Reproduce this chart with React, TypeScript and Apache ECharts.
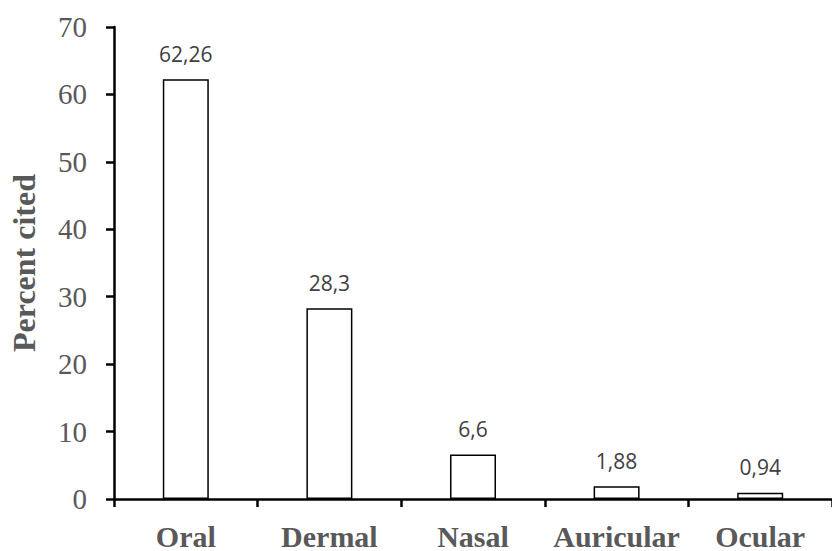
import React, { useEffect, useRef } from "react";
import * as echarts from "echarts";

const categories = ["Oral", "Dermal", "Nasal", "Auricular", "Ocular"];
const percentCited = [62.26, 28.3, 6.6, 1.88, 0.94];
const valueLabels = ["62,26", "28,3", "6,6", "1,88", "0,94"];
const yTicks = { min: 0, max: 70, interval: 10 };

export default function App() {
  const ref = useRef<HTMLDivElement>(null);
  useEffect(() => {
    if (!ref.current) return;
    const chart = echarts.init(ref.current, undefined, { renderer: "svg" });
    const serif = "'Liberation Serif', 'Times New Roman', serif";
    chart.setOption({
      animation: false,
      backgroundColor: "#ffffff",
      grid: { left: 111, right: -9, top: 27, bottom: 52, containLabel: false },
      xAxis: {
        type: "category",
        data: categories,
        axisLine: { lineStyle: { color: "#000", width: 2.5 } },
        axisTick: { show: true, interval: 0, length: 8, lineStyle: { color: "#000", width: 2.5 } },
        axisLabel: {
          interval: 0,
          hideOverlap: false,
          color: "#595959",
          fontFamily: serif,
          fontWeight: "bold",
          fontSize: 30,
          margin: 22,
        },
      },
      yAxis: {
        type: "value",
        min: yTicks.min,
        max: yTicks.max,
        interval: yTicks.interval,
        name: "Percent cited",
        nameLocation: "middle",
        nameGap: 74,
        nameTextStyle: {
          color: "#595959",
          fontFamily: serif,
          fontWeight: "bold",
          fontSize: 32,
        },
        splitLine: { show: false },
        axisLine: { show: true, lineStyle: { color: "#000", width: 2.5 } },
        axisTick: { show: true, length: 8, lineStyle: { color: "#000", width: 2.5 } },
        axisLabel: {
          color: "#595959",
          fontFamily: serif,
          fontSize: 29,
          margin: 27,
        },
      },
      series: [
        {
          type: "bar",
          data: percentCited,
          barWidth: 46,
          itemStyle: { color: "#ffffff", borderColor: "#000", borderWidth: 1.5 },
          label: {
            show: true,
            position: "top",
            distance: 15,
            color: "#404040",
            fontFamily: "'Open Sans', sans-serif",
            fontSize: 21,
            formatter: (p: any) => valueLabels[p.dataIndex],
          },
        },
      ],
    });
    return () => chart.dispose();
  }, []);
  return (
    <div
      ref={ref}
      style={{ position: "fixed", left: 0, top: 0, width: 832, height: 551 }}
    />
  );
}
